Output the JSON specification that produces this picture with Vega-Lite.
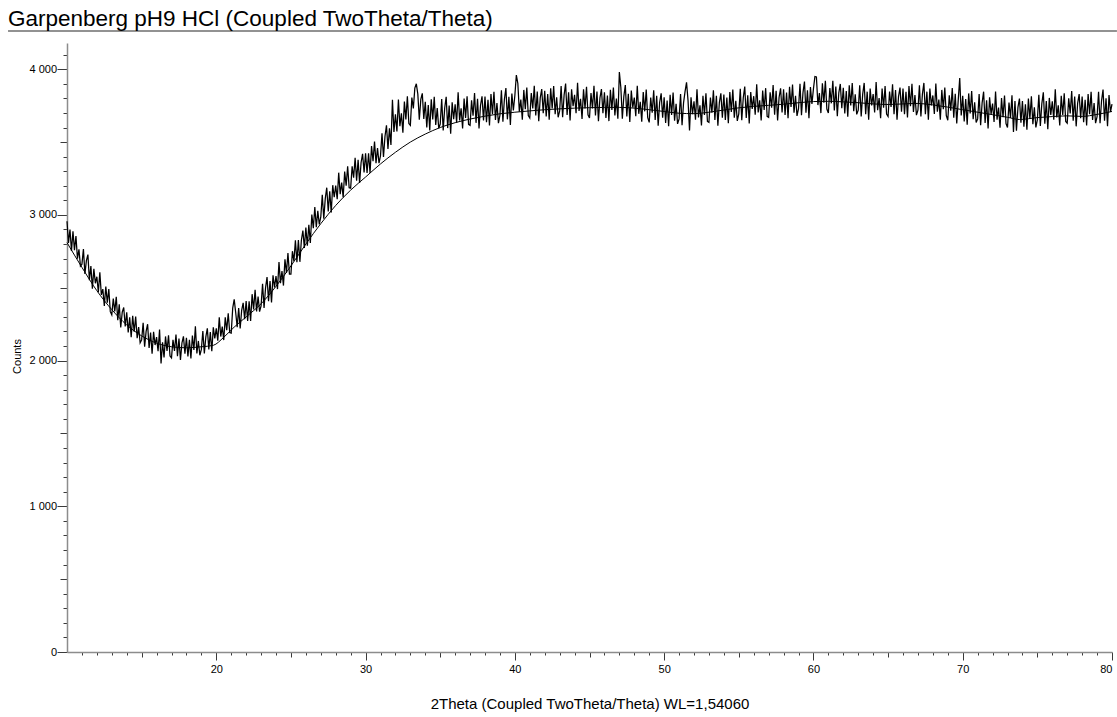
{
  "$schema": "https://vega.github.io/schema/vega-lite/v6.json",
  "width": 1045,
  "height": 609,
  "autosize": {"type": "none"},
  "padding": {"left": 67, "top": 43, "right": 5, "bottom": 65},
  "background": "white",
  "title": {
    "text": "Garpenberg pH9 HCl (Coupled TwoTheta/Theta)",
    "anchor": "start",
    "frame": "group",
    "dx": -59,
    "font": "Liberation Sans",
    "fontSize": 22.5,
    "fontWeight": "normal",
    "color": "#000000",
    "baseline": "alphabetic",
    "offset": -18
  },
  "config": {
    "view": {"stroke": null},
    "axis": {
      "grid": false,
      "labelFont": "Liberation Sans",
      "labelFontSize": 11,
      "labelColor": "#000000",
      "labelOverlap": false,
      "titleFont": "Liberation Sans",
      "titleFontWeight": "normal",
      "titleColor": "#000000",
      "domainColor": "#8c8c8c",
      "domainWidth": 1.5,
      "tickColor": "#3a3a3a",
      "tickWidth": 1,
      "tickCount": 100
    }
  },
  "datasets": {
    "scan": [
      {"t":10.0,"c":2956},{"t":10.1,"c":2808},{"t":10.2,"c":2900},{"t":10.3,"c":2752},{"t":10.4,"c":2888},{"t":10.5,"c":2758},{"t":10.6,"c":2855},{"t":10.7,"c":2700},{"t":10.8,"c":2764},{"t":10.9,"c":2649},
      {"t":11.0,"c":2662},{"t":11.1,"c":2766},{"t":11.2,"c":2595},{"t":11.3,"c":2687},{"t":11.4,"c":2728},{"t":11.5,"c":2552},{"t":11.6,"c":2649},{"t":11.7,"c":2494},{"t":11.8,"c":2630},{"t":11.9,"c":2531},
      {"t":12.0,"c":2576},{"t":12.1,"c":2469},{"t":12.2,"c":2606},{"t":12.3,"c":2451},{"t":12.4,"c":2491},{"t":12.5,"c":2376},{"t":12.6,"c":2509},{"t":12.7,"c":2398},{"t":12.8,"c":2491},{"t":12.9,"c":2336},
      {"t":13.0,"c":2314},{"t":13.1,"c":2426},{"t":13.2,"c":2338},{"t":13.3,"c":2438},{"t":13.4,"c":2278},{"t":13.5,"c":2386},{"t":13.6,"c":2227},{"t":13.7,"c":2332},{"t":13.8,"c":2365},{"t":13.9,"c":2234},
      {"t":14.0,"c":2331},{"t":14.1,"c":2194},{"t":14.2,"c":2297},{"t":14.3,"c":2160},{"t":14.4,"c":2307},{"t":14.5,"c":2198},{"t":14.6,"c":2302},{"t":14.7,"c":2154},{"t":14.8,"c":2230},{"t":14.9,"c":2122},
      {"t":15.0,"c":2142},{"t":15.1,"c":2259},{"t":15.2,"c":2096},{"t":15.3,"c":2201},{"t":15.4,"c":2250},{"t":15.5,"c":2087},{"t":15.6,"c":2193},{"t":15.7,"c":2047},{"t":15.8,"c":2197},{"t":15.9,"c":2107},
      {"t":16.0,"c":2161},{"t":16.1,"c":2065},{"t":16.2,"c":2213},{"t":16.3,"c":1980},{"t":16.4,"c":2125},{"t":16.5,"c":2021},{"t":16.6,"c":2166},{"t":16.7,"c":2067},{"t":16.8,"c":2173},{"t":16.9,"c":2032},
      {"t":17.0,"c":2019},{"t":17.1,"c":2143},{"t":17.2,"c":2067},{"t":17.3,"c":2179},{"t":17.4,"c":2031},{"t":17.5,"c":2151},{"t":17.6,"c":2004},{"t":17.7,"c":2121},{"t":17.8,"c":2166},{"t":17.9,"c":2047},
      {"t":18.0,"c":2156},{"t":18.1,"c":2029},{"t":18.2,"c":2142},{"t":18.3,"c":2015},{"t":18.4,"c":2172},{"t":18.5,"c":2073},{"t":18.6,"c":2235},{"t":18.7,"c":2049},{"t":18.8,"c":2135},{"t":18.9,"c":2037},
      {"t":19.0,"c":2077},{"t":19.1,"c":2203},{"t":19.2,"c":2049},{"t":19.3,"c":2163},{"t":19.4,"c":2221},{"t":19.5,"c":2077},{"t":19.6,"c":2196},{"t":19.7,"c":2064},{"t":19.8,"c":2228},{"t":19.9,"c":2152},
      {"t":20.0,"c":2221},{"t":20.1,"c":2137},{"t":20.2,"c":2297},{"t":20.3,"c":2165},{"t":20.4,"c":2233},{"t":20.5,"c":2141},{"t":20.6,"c":2297},{"t":20.7,"c":2209},{"t":20.8,"c":2325},{"t":20.9,"c":2193},
      {"t":21.0,"c":2189},{"t":21.1,"c":2360},{"t":21.2,"c":2420},{"t":21.3,"c":2330},{"t":21.4,"c":2230},{"t":21.5,"c":2361},{"t":21.6,"c":2221},{"t":21.7,"c":2345},{"t":21.8,"c":2397},{"t":21.9,"c":2285},
      {"t":22.0,"c":2408},{"t":22.1,"c":2273},{"t":22.2,"c":2407},{"t":22.3,"c":2272},{"t":22.4,"c":2456},{"t":22.5,"c":2352},{"t":22.6,"c":2486},{"t":22.7,"c":2337},{"t":22.8,"c":2440},{"t":22.9,"c":2336},
      {"t":23.0,"c":2376},{"t":23.1,"c":2527},{"t":23.2,"c":2362},{"t":23.3,"c":2499},{"t":23.4,"c":2573},{"t":23.5,"c":2408},{"t":23.6,"c":2546},{"t":23.7,"c":2399},{"t":23.8,"c":2586},{"t":23.9,"c":2502},
      {"t":24.0,"c":2581},{"t":24.1,"c":2491},{"t":24.2,"c":2676},{"t":24.3,"c":2532},{"t":24.4,"c":2614},{"t":24.5,"c":2515},{"t":24.6,"c":2696},{"t":24.7,"c":2602},{"t":24.8,"c":2738},{"t":24.9,"c":2594},
      {"t":25.0,"c":2594},{"t":25.1,"c":2751},{"t":25.2,"c":2682},{"t":25.3,"c":2826},{"t":25.4,"c":2676},{"t":25.5,"c":2828},{"t":25.6,"c":2678},{"t":25.7,"c":2826},{"t":25.8,"c":2893},{"t":25.9,"c":2774},
      {"t":26.0,"c":2913},{"t":26.1,"c":2788},{"t":26.2,"c":2933},{"t":26.3,"c":2808},{"t":26.4,"c":3003},{"t":26.5,"c":2909},{"t":26.6,"c":3054},{"t":26.7,"c":2915},{"t":26.8,"c":3029},{"t":26.9,"c":2935},
      {"t":27.0,"c":2986},{"t":27.1,"c":3138},{"t":27.2,"c":2974},{"t":27.3,"c":3112},{"t":27.4,"c":3187},{"t":27.5,"c":3023},{"t":27.6,"c":3162},{"t":27.7,"c":3016},{"t":27.8,"c":3204},{"t":27.9,"c":3121},
      {"t":28.0,"c":3201},{"t":28.1,"c":3108},{"t":28.2,"c":3290},{"t":28.3,"c":3143},{"t":28.4,"c":3222},{"t":28.5,"c":3120},{"t":28.6,"c":3298},{"t":28.7,"c":3201},{"t":28.8,"c":3334},{"t":28.9,"c":3187},
      {"t":29.0,"c":3184},{"t":29.1,"c":3333},{"t":29.2,"c":3256},{"t":29.3,"c":3392},{"t":29.4,"c":3234},{"t":29.5,"c":3378},{"t":29.6,"c":3220},{"t":29.7,"c":3360},{"t":29.8,"c":3419},{"t":29.9,"c":3292},
      {"t":30.0,"c":3423},{"t":30.1,"c":3288},{"t":30.2,"c":3423},{"t":30.3,"c":3288},{"t":30.4,"c":3473},{"t":30.5,"c":3369},{"t":30.6,"c":3504},{"t":30.7,"c":3355},{"t":30.8,"c":3459},{"t":30.9,"c":3355},
      {"t":31.0,"c":3406},{"t":31.1,"c":3560},{"t":31.2,"c":3398},{"t":31.3,"c":3538},{"t":31.4,"c":3615},{"t":31.5,"c":3453},{"t":31.6,"c":3594},{"t":31.7,"c":3480},{"t":31.8,"c":3790},{"t":31.9,"c":3570},
      {"t":32.0,"c":3690},{"t":32.1,"c":3573},{"t":32.2,"c":3792},{"t":32.3,"c":3609},{"t":32.4,"c":3697},{"t":32.5,"c":3564},{"t":32.6,"c":3778},{"t":32.7,"c":3656},{"t":32.8,"c":3815},{"t":32.9,"c":3627},
      {"t":33.0,"c":3615},{"t":33.1,"c":3806},{"t":33.2,"c":3731},{"t":33.3,"c":3870},{"t":33.4,"c":3900},{"t":33.5,"c":3830},{"t":33.6,"c":3653},{"t":33.7,"c":3793},{"t":33.8,"c":3834},{"t":33.9,"c":3658},
      {"t":34.0,"c":3777},{"t":34.1,"c":3601},{"t":34.2,"c":3755},{"t":34.3,"c":3579},{"t":34.4,"c":3794},{"t":34.5,"c":3656},{"t":34.6,"c":3810},{"t":34.7,"c":3617},{"t":34.8,"c":3733},{"t":34.9,"c":3595},
      {"t":35.0,"c":3624},{"t":35.1,"c":3795},{"t":35.2,"c":3580},{"t":35.3,"c":3734},{"t":35.4,"c":3811},{"t":35.5,"c":3596},{"t":35.6,"c":3751},{"t":35.7,"c":3558},{"t":35.8,"c":3773},{"t":35.9,"c":3657},
      {"t":36.0,"c":3760},{"t":36.1,"c":3633},{"t":36.2,"c":3842},{"t":36.3,"c":3649},{"t":36.4,"c":3732},{"t":36.5,"c":3594},{"t":36.6,"c":3798},{"t":36.7,"c":3666},{"t":36.8,"c":3815},{"t":36.9,"c":3622},
      {"t":37.0,"c":3615},{"t":37.1,"c":3786},{"t":37.2,"c":3681},{"t":37.3,"c":3836},{"t":37.4,"c":3632},{"t":37.5,"c":3797},{"t":37.6,"c":3593},{"t":37.7,"c":3753},{"t":37.8,"c":3814},{"t":37.9,"c":3648},
      {"t":38.0,"c":3812},{"t":38.1,"c":3636},{"t":38.2,"c":3790},{"t":38.3,"c":3614},{"t":38.4,"c":3829},{"t":38.5,"c":3691},{"t":38.6,"c":3845},{"t":38.7,"c":3652},{"t":38.8,"c":3768},{"t":38.9,"c":3630},
      {"t":39.0,"c":3684},{"t":39.1,"c":3855},{"t":39.2,"c":3640},{"t":39.3,"c":3794},{"t":39.4,"c":3871},{"t":39.5,"c":3656},{"t":39.6,"c":3811},{"t":39.7,"c":3618},{"t":39.8,"c":3833},{"t":39.9,"c":3717},
      {"t":40.0,"c":3820},{"t":40.1,"c":3960},{"t":40.2,"c":3902},{"t":40.3,"c":3709},{"t":40.4,"c":3792},{"t":40.5,"c":3654},{"t":40.6,"c":3858},{"t":40.7,"c":3726},{"t":40.8,"c":3875},{"t":40.9,"c":3682},
      {"t":41.0,"c":3665},{"t":41.1,"c":3836},{"t":41.2,"c":3731},{"t":41.3,"c":3886},{"t":41.4,"c":3682},{"t":41.5,"c":3847},{"t":41.6,"c":3643},{"t":41.7,"c":3803},{"t":41.8,"c":3864},{"t":41.9,"c":3698},
      {"t":42.0,"c":3852},{"t":42.1,"c":3676},{"t":42.2,"c":3830},{"t":42.3,"c":3654},{"t":42.4,"c":3869},{"t":42.5,"c":3731},{"t":42.6,"c":3885},{"t":42.7,"c":3692},{"t":42.8,"c":3808},{"t":42.9,"c":3670},
      {"t":43.0,"c":3714},{"t":43.1,"c":3885},{"t":43.2,"c":3670},{"t":43.3,"c":3824},{"t":43.4,"c":3901},{"t":43.5,"c":3686},{"t":43.6,"c":3841},{"t":43.7,"c":3648},{"t":43.8,"c":3863},{"t":43.9,"c":3747},
      {"t":44.0,"c":3825},{"t":44.1,"c":3698},{"t":44.2,"c":3907},{"t":44.3,"c":3714},{"t":44.4,"c":3797},{"t":44.5,"c":3659},{"t":44.6,"c":3863},{"t":44.7,"c":3731},{"t":44.8,"c":3880},{"t":44.9,"c":3687},
      {"t":45.0,"c":3665},{"t":45.1,"c":3836},{"t":45.2,"c":3731},{"t":45.3,"c":3886},{"t":45.4,"c":3682},{"t":45.5,"c":3847},{"t":45.6,"c":3643},{"t":45.7,"c":3803},{"t":45.8,"c":3864},{"t":45.9,"c":3698},
      {"t":46.0,"c":3842},{"t":46.1,"c":3666},{"t":46.2,"c":3820},{"t":46.3,"c":3644},{"t":46.4,"c":3859},{"t":46.5,"c":3721},{"t":46.6,"c":3875},{"t":46.7,"c":3682},{"t":46.8,"c":3798},{"t":46.9,"c":3660},
      {"t":47.0,"c":3980},{"t":47.1,"c":3875},{"t":47.2,"c":3660},{"t":47.3,"c":3814},{"t":47.4,"c":3891},{"t":47.5,"c":3676},{"t":47.6,"c":3831},{"t":47.7,"c":3638},{"t":47.8,"c":3853},{"t":47.9,"c":3737},
      {"t":48.0,"c":3805},{"t":48.1,"c":3678},{"t":48.2,"c":3887},{"t":48.3,"c":3694},{"t":48.4,"c":3777},{"t":48.5,"c":3639},{"t":48.6,"c":3843},{"t":48.7,"c":3711},{"t":48.8,"c":3860},{"t":48.9,"c":3667},
      {"t":49.0,"c":3635},{"t":49.1,"c":3806},{"t":49.2,"c":3701},{"t":49.3,"c":3856},{"t":49.4,"c":3652},{"t":49.5,"c":3817},{"t":49.6,"c":3613},{"t":49.7,"c":3773},{"t":49.8,"c":3834},{"t":49.9,"c":3668},
      {"t":50.0,"c":3807},{"t":50.1,"c":3631},{"t":50.2,"c":3785},{"t":50.3,"c":3609},{"t":50.4,"c":3824},{"t":50.5,"c":3686},{"t":50.6,"c":3840},{"t":50.7,"c":3647},{"t":50.8,"c":3763},{"t":50.9,"c":3625},
      {"t":51.0,"c":3659},{"t":51.1,"c":3830},{"t":51.2,"c":3615},{"t":51.3,"c":3769},{"t":51.4,"c":3846},{"t":51.5,"c":3910},{"t":51.6,"c":3786},{"t":51.7,"c":3580},{"t":51.8,"c":3808},{"t":51.9,"c":3692},
      {"t":52.0,"c":3780},{"t":52.1,"c":3653},{"t":52.2,"c":3862},{"t":52.3,"c":3669},{"t":52.4,"c":3752},{"t":52.5,"c":3614},{"t":52.6,"c":3818},{"t":52.7,"c":3686},{"t":52.8,"c":3835},{"t":52.9,"c":3642},
      {"t":53.0,"c":3635},{"t":53.1,"c":3806},{"t":53.2,"c":3701},{"t":53.3,"c":3856},{"t":53.4,"c":3652},{"t":53.5,"c":3817},{"t":53.6,"c":3613},{"t":53.7,"c":3773},{"t":53.8,"c":3834},{"t":53.9,"c":3668},
      {"t":54.0,"c":3827},{"t":54.1,"c":3651},{"t":54.2,"c":3805},{"t":54.3,"c":3629},{"t":54.4,"c":3844},{"t":54.5,"c":3706},{"t":54.6,"c":3860},{"t":54.7,"c":3667},{"t":54.8,"c":3783},{"t":54.9,"c":3645},
      {"t":55.0,"c":3694},{"t":55.1,"c":3865},{"t":55.2,"c":3650},{"t":55.3,"c":3804},{"t":55.4,"c":3881},{"t":55.5,"c":3666},{"t":55.6,"c":3821},{"t":55.7,"c":3628},{"t":55.8,"c":3843},{"t":55.9,"c":3727},
      {"t":56.0,"c":3815},{"t":56.1,"c":3688},{"t":56.2,"c":3897},{"t":56.3,"c":3704},{"t":56.4,"c":3787},{"t":56.5,"c":3649},{"t":56.6,"c":3853},{"t":56.7,"c":3721},{"t":56.8,"c":3870},{"t":56.9,"c":3677},
      {"t":57.0,"c":3670},{"t":57.1,"c":3841},{"t":57.2,"c":3736},{"t":57.3,"c":3891},{"t":57.4,"c":3687},{"t":57.5,"c":3852},{"t":57.6,"c":3648},{"t":57.7,"c":3808},{"t":57.8,"c":3869},{"t":57.9,"c":3703},
      {"t":58.0,"c":3862},{"t":58.1,"c":3686},{"t":58.2,"c":3840},{"t":58.3,"c":3664},{"t":58.4,"c":3879},{"t":58.5,"c":3741},{"t":58.6,"c":3895},{"t":58.7,"c":3702},{"t":58.8,"c":3818},{"t":58.9,"c":3680},
      {"t":59.0,"c":3729},{"t":59.1,"c":3900},{"t":59.2,"c":3685},{"t":59.3,"c":3839},{"t":59.4,"c":3916},{"t":59.5,"c":3701},{"t":59.6,"c":3856},{"t":59.7,"c":3663},{"t":59.8,"c":3878},{"t":59.9,"c":3762},
      {"t":60.0,"c":3865},{"t":60.1,"c":3950},{"t":60.2,"c":3947},{"t":60.3,"c":3754},{"t":60.4,"c":3837},{"t":60.5,"c":3699},{"t":60.6,"c":3903},{"t":60.7,"c":3771},{"t":60.8,"c":3920},{"t":60.9,"c":3727},
      {"t":61.0,"c":3700},{"t":61.1,"c":3871},{"t":61.2,"c":3766},{"t":61.3,"c":3921},{"t":61.4,"c":3717},{"t":61.5,"c":3882},{"t":61.6,"c":3678},{"t":61.7,"c":3838},{"t":61.8,"c":3899},{"t":61.9,"c":3733},
      {"t":62.0,"c":3872},{"t":62.1,"c":3696},{"t":62.2,"c":3850},{"t":62.3,"c":3674},{"t":62.4,"c":3889},{"t":62.5,"c":3751},{"t":62.6,"c":3905},{"t":62.7,"c":3712},{"t":62.8,"c":3828},{"t":62.9,"c":3690},
      {"t":63.0,"c":3719},{"t":63.1,"c":3890},{"t":63.2,"c":3675},{"t":63.3,"c":3829},{"t":63.4,"c":3906},{"t":63.5,"c":3691},{"t":63.6,"c":3846},{"t":63.7,"c":3653},{"t":63.8,"c":3868},{"t":63.9,"c":3752},
      {"t":64.0,"c":3830},{"t":64.1,"c":3703},{"t":64.2,"c":3912},{"t":64.3,"c":3719},{"t":64.4,"c":3802},{"t":64.5,"c":3664},{"t":64.6,"c":3868},{"t":64.7,"c":3736},{"t":64.8,"c":3885},{"t":64.9,"c":3692},
      {"t":65.0,"c":3675},{"t":65.1,"c":3846},{"t":65.2,"c":3741},{"t":65.3,"c":3896},{"t":65.4,"c":3692},{"t":65.5,"c":3857},{"t":65.6,"c":3653},{"t":65.7,"c":3813},{"t":65.8,"c":3874},{"t":65.9,"c":3708},
      {"t":66.0,"c":3867},{"t":66.1,"c":3691},{"t":66.2,"c":3845},{"t":66.3,"c":3669},{"t":66.4,"c":3884},{"t":66.5,"c":3746},{"t":66.6,"c":3900},{"t":66.7,"c":3707},{"t":66.8,"c":3823},{"t":66.9,"c":3685},
      {"t":67.0,"c":3719},{"t":67.1,"c":3890},{"t":67.2,"c":3675},{"t":67.3,"c":3829},{"t":67.4,"c":3906},{"t":67.5,"c":3691},{"t":67.6,"c":3846},{"t":67.7,"c":3653},{"t":67.8,"c":3868},{"t":67.9,"c":3752},
      {"t":68.0,"c":3820},{"t":68.1,"c":3693},{"t":68.2,"c":3902},{"t":68.3,"c":3709},{"t":68.4,"c":3792},{"t":68.5,"c":3654},{"t":68.6,"c":3858},{"t":68.7,"c":3726},{"t":68.8,"c":3875},{"t":68.9,"c":3682},
      {"t":69.0,"c":3650},{"t":69.1,"c":3821},{"t":69.2,"c":3716},{"t":69.3,"c":3871},{"t":69.4,"c":3667},{"t":69.5,"c":3832},{"t":69.6,"c":3628},{"t":69.7,"c":3788},{"t":69.8,"c":3940},{"t":69.9,"c":3683},
      {"t":70.0,"c":3817},{"t":70.1,"c":3641},{"t":70.2,"c":3795},{"t":70.3,"c":3619},{"t":70.4,"c":3834},{"t":70.5,"c":3696},{"t":70.6,"c":3850},{"t":70.7,"c":3657},{"t":70.8,"c":3773},{"t":70.9,"c":3635},
      {"t":71.0,"c":3659},{"t":71.1,"c":3830},{"t":71.2,"c":3615},{"t":71.3,"c":3769},{"t":71.4,"c":3846},{"t":71.5,"c":3631},{"t":71.6,"c":3786},{"t":71.7,"c":3593},{"t":71.8,"c":3808},{"t":71.9,"c":3692},
      {"t":72.0,"c":3765},{"t":72.1,"c":3638},{"t":72.2,"c":3847},{"t":72.3,"c":3654},{"t":72.4,"c":3737},{"t":72.5,"c":3599},{"t":72.6,"c":3803},{"t":72.7,"c":3671},{"t":72.8,"c":3820},{"t":72.9,"c":3627},
      {"t":73.0,"c":3600},{"t":73.1,"c":3771},{"t":73.2,"c":3666},{"t":73.3,"c":3821},{"t":73.4,"c":3570},{"t":73.5,"c":3782},{"t":73.6,"c":3578},{"t":73.7,"c":3738},{"t":73.8,"c":3799},{"t":73.9,"c":3633},
      {"t":74.0,"c":3782},{"t":74.1,"c":3606},{"t":74.2,"c":3760},{"t":74.3,"c":3584},{"t":74.4,"c":3799},{"t":74.5,"c":3661},{"t":74.6,"c":3815},{"t":74.7,"c":3622},{"t":74.8,"c":3738},{"t":74.9,"c":3600},
      {"t":75.0,"c":3654},{"t":75.1,"c":3825},{"t":75.2,"c":3610},{"t":75.3,"c":3764},{"t":75.4,"c":3841},{"t":75.5,"c":3626},{"t":75.6,"c":3781},{"t":75.7,"c":3588},{"t":75.8,"c":3803},{"t":75.9,"c":3687},
      {"t":76.0,"c":3780},{"t":76.1,"c":3653},{"t":76.2,"c":3862},{"t":76.3,"c":3669},{"t":76.4,"c":3752},{"t":76.5,"c":3614},{"t":76.6,"c":3818},{"t":76.7,"c":3686},{"t":76.8,"c":3835},{"t":76.9,"c":3642},
      {"t":77.0,"c":3630},{"t":77.1,"c":3801},{"t":77.2,"c":3696},{"t":77.3,"c":3851},{"t":77.4,"c":3647},{"t":77.5,"c":3812},{"t":77.6,"c":3608},{"t":77.7,"c":3768},{"t":77.8,"c":3829},{"t":77.9,"c":3663},
      {"t":78.0,"c":3812},{"t":78.1,"c":3636},{"t":78.2,"c":3790},{"t":78.3,"c":3614},{"t":78.4,"c":3829},{"t":78.5,"c":3691},{"t":78.6,"c":3845},{"t":78.7,"c":3652},{"t":78.8,"c":3768},{"t":78.9,"c":3630},
      {"t":79.0,"c":3674},{"t":79.1,"c":3845},{"t":79.2,"c":3630},{"t":79.3,"c":3784},{"t":79.4,"c":3861},{"t":79.5,"c":3646},{"t":79.6,"c":3801},{"t":79.7,"c":3608},{"t":79.8,"c":3823},{"t":79.9,"c":3707},
      {"t":80.0,"c":3760}
    ],
    "background": [
      {"t":10,"c":2810},{"t":11,"c":2640},{"t":12,"c":2480},{"t":13,"c":2350},{"t":14,"c":2245},{"t":15,"c":2170},
      {"t":16,"c":2120},{"t":17,"c":2095},{"t":18,"c":2088},{"t":19,"c":2095},{"t":19.8,"c":2105},{"t":20.5,"c":2160},
      {"t":21.2,"c":2230},{"t":22,"c":2300},{"t":23,"c":2390},{"t":24,"c":2510},{"t":25,"c":2650},{"t":26,"c":2800},
      {"t":27,"c":2940},{"t":28,"c":3065},{"t":29,"c":3170},{"t":30,"c":3260},{"t":31,"c":3350},{"t":32,"c":3430},
      {"t":33,"c":3500},{"t":34,"c":3555},{"t":35,"c":3600},{"t":36,"c":3633},{"t":37,"c":3658},{"t":38,"c":3678},
      {"t":39,"c":3694},{"t":40,"c":3705},{"t":41,"c":3714},{"t":42,"c":3722},{"t":43,"c":3728},{"t":44,"c":3733},
      {"t":45,"c":3736},{"t":46,"c":3738},{"t":47,"c":3738},{"t":48,"c":3733},{"t":49,"c":3722},{"t":50,"c":3710},
      {"t":51,"c":3698},{"t":52,"c":3695},{"t":53,"c":3705},{"t":54,"c":3720},{"t":55,"c":3735},{"t":56,"c":3745},
      {"t":57,"c":3752},{"t":58,"c":3760},{"t":59,"c":3770},{"t":60,"c":3778},{"t":61,"c":3780},{"t":62,"c":3776},
      {"t":63,"c":3770},{"t":64,"c":3762},{"t":65,"c":3758},{"t":66,"c":3762},{"t":67,"c":3765},{"t":68,"c":3755},
      {"t":69,"c":3740},{"t":70,"c":3722},{"t":71,"c":3705},{"t":72,"c":3688},{"t":73,"c":3670},{"t":73.8,"c":3655},
      {"t":75,"c":3668},{"t":76,"c":3675},{"t":77,"c":3680},{"t":78,"c":3676},{"t":79,"c":3690},{"t":80,"c":3710}
    ]
  },
  "layer": [
    {
      "data": {"name": "scan"},
      "mark": {"type": "line", "color": "#000000", "strokeWidth": 1.25},
      "encoding": {
        "x": {
          "field": "t",
          "type": "quantitative",
          "scale": {"domain": [10, 80], "nice": false, "zero": false},
          "axis": {
            "title": "2Theta (Coupled TwoTheta/Theta) WL=1,54060",
            "titleFontSize": 15,
            "titleY": 51,
            "titleBaseline": "middle",
            "values": [11,12,13,14,15,16,17,18,19,20,21,22,23,24,25,26,27,28,29,30,31,32,33,34,35,36,37,38,39,40,41,42,43,44,45,46,47,48,49,50,51,52,53,54,55,56,57,58,59,60,61,62,63,64,65,66,67,68,69,70,71,72,73,74,75,76,77,78,79,80],
            "labelExpr": "datum.value % 10 === 0 ? format(datum.value, 'd') : ''",
            "tickSize": {"condition": [{"test": "datum.value % 10 === 0", "value": 8}, {"test": "datum.value % 5 === 0", "value": 5}], "value": 3},
            "labelPadding": 3
          }
        },
        "y": {
          "field": "c",
          "type": "quantitative",
          "scale": {"domain": [0, 4180], "nice": false, "zero": true},
          "axis": {
            "title": "Counts",
            "titleFontSize": 11,
            "titleX": -50,
            "titleY": 313,
            "titleAngle": -90,
            "titleAlign": "center",
            "titleBaseline": "middle",
            "values": [0,100,200,300,400,500,600,700,800,900,1000,1100,1200,1300,1400,1500,1600,1700,1800,1900,2000,2100,2200,2300,2400,2500,2600,2700,2800,2900,3000,3100,3200,3300,3400,3500,3600,3700,3800,3900,4000,4100],
            "labelExpr": "datum.value % 1000 === 0 ? replace(format(datum.value, ','), ',', ' ') : ''",
            "tickSize": {"condition": [{"test": "datum.value % 1000 === 0", "value": 10}, {"test": "datum.value % 500 === 0", "value": 7}], "value": 4},
            "labelPadding": 0.5
          }
        }
      }
    },
    {
      "data": {"name": "background"},
      "mark": {"type": "line", "color": "#000000", "strokeWidth": 1, "interpolate": "monotone"},
      "encoding": {
        "x": {"field": "t", "type": "quantitative"},
        "y": {"field": "c", "type": "quantitative"}
      }
    },
    {
      "data": {"values": [{}]},
      "mark": {"type": "rule", "color": "#6e6e6e", "strokeWidth": 1.5},
      "encoding": {
        "x": {"datum": 6.05},
        "x2": {"datum": 80.33},
        "y": {"datum": 4262}
      }
    }
  ]
}
